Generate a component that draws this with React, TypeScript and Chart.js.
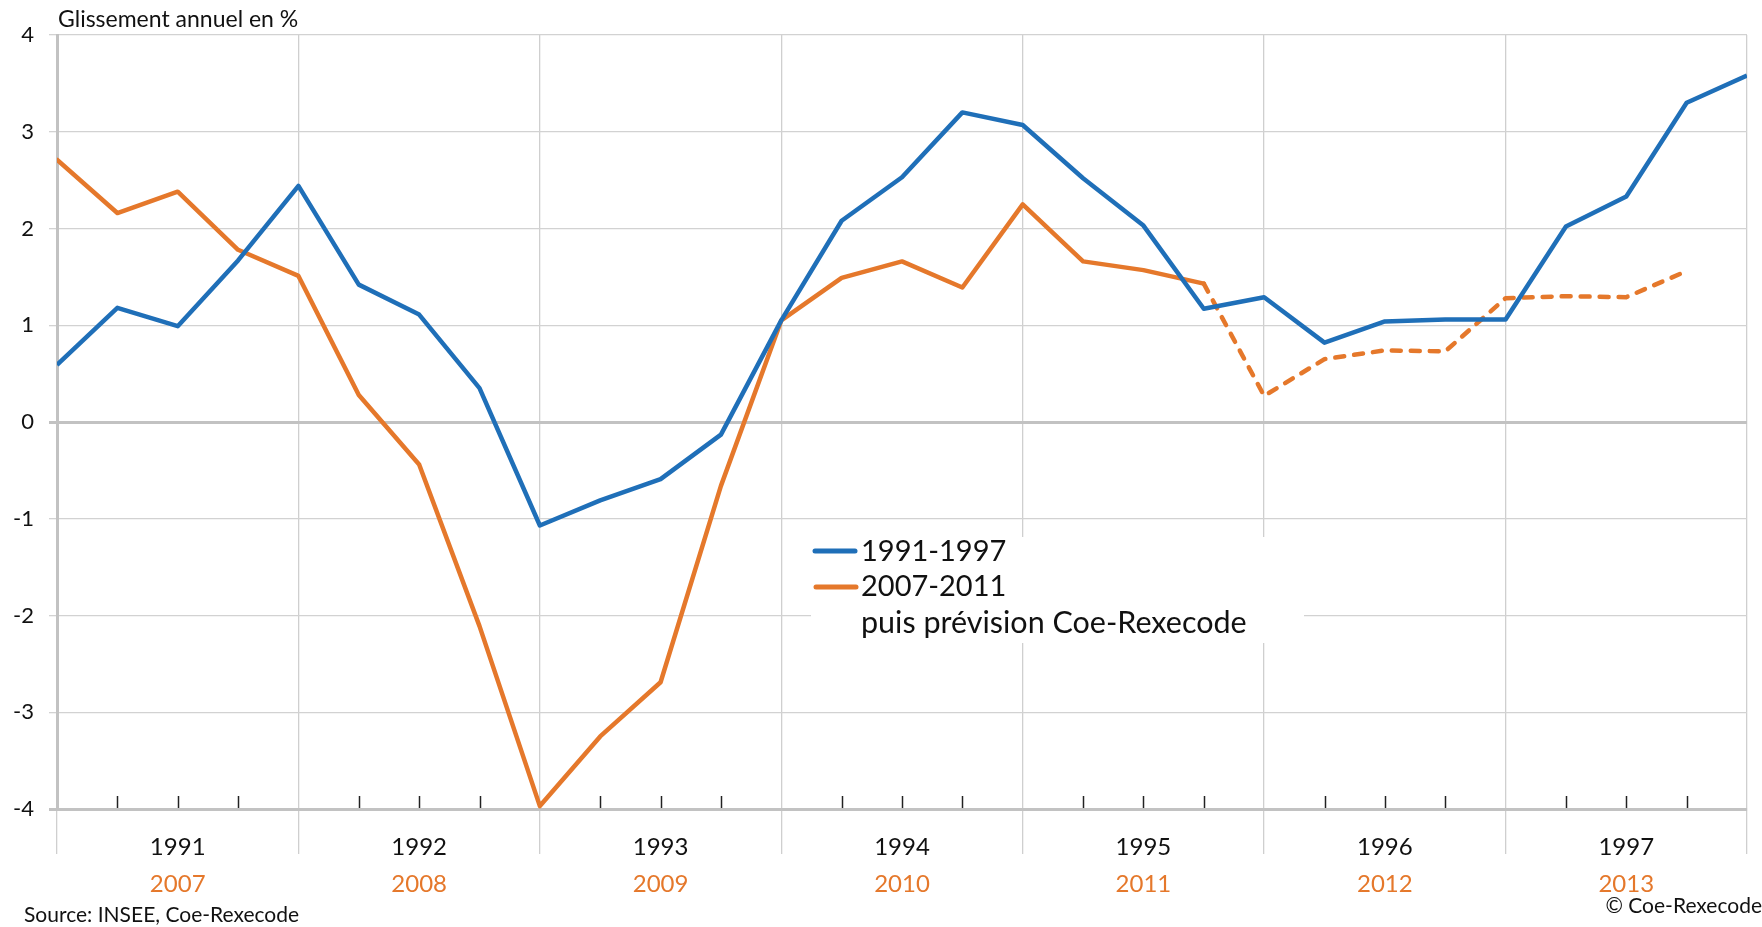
import React, { useEffect, useRef } from 'react';
import { Chart, registerables } from 'chart.js';

Chart.register(...registerables);

const FONT = 'Lato, "Open Sans", sans-serif';

// Quarterly points, year boundaries every 4 points (0..28)
const seriesBlue: number[] = [0.59, 1.18, 0.99, 1.67, 2.44, 1.42, 1.11, 0.35, -1.07, -0.81, -0.59, -0.13, 1.05, 2.08, 2.53, 3.2, 3.07, 2.52, 2.03, 1.17, 1.29, 0.82, 1.04, 1.06, 1.06, 2.02, 2.33, 3.3, 3.58];
const seriesOrange: (number | null)[] = [2.71, 2.16, 2.38, 1.78, 1.51, 0.28, -0.44, -2.11, -3.97, -3.25, -2.69, -0.66, 1.05, 1.49, 1.66, 1.39, 2.25, 1.66, 1.57, 1.43, 0.27, 0.65, 0.74, 0.73, 1.28, 1.3, 1.29, 1.56, null];
const forecastStart = 19;

const yearsTop = ['1991', '1992', '1993', '1994', '1995', '1996', '1997'];
const yearsBottom = ['2007', '2008', '2009', '2010', '2011', '2012', '2013'];
const yTicks = [-4, -3, -2, -1, 0, 1, 2, 3, 4];

const labelBlue = '1991-1997';
const labelOrange = '2007-2011';
const labelOrange2 = 'puis prévision Coe-Rexecode';
const titleText = 'Glissement annuel en %';
const sourceText = 'Source: INSEE, Coe-Rexecode';
const copyText = '© Coe-Rexecode';

const BLUE = '#1f6fb8';
const ORANGE = '#e5782b';

const decor = {
  id: 'decor',
  beforeDatasetsDraw(chart: any) {
    const { ctx, chartArea, scales } = chart;
    const x = scales.x;
    ctx.save();
    ctx.strokeStyle = '#222';
    ctx.lineWidth = 1.5;
    for (let i = 1; i < 28; i++) {
      if (i % 4 === 0) continue;
      const px = Math.round(x.getPixelForValue(i)) + 0.5;
      ctx.beginPath();
      ctx.moveTo(px, chartArea.bottom - 1);
      ctx.lineTo(px, chartArea.bottom - 13);
      ctx.stroke();
    }
    // legend background
    ctx.fillStyle = '#ffffff';
    ctx.fillRect(811, 537, 493, 106);
    ctx.restore();
  },
  afterDraw(chart: any) {
    const { ctx, scales } = chart;
    const x = scales.x;
    ctx.save();
    ctx.textBaseline = 'middle';
    // year labels
    ctx.textAlign = 'center';
    ctx.font = `24px ${FONT}`;
    yearsTop.forEach((lab, k) => {
      const cx = x.getPixelForValue(4 * k + 2);
      ctx.fillStyle = '#111';
      ctx.fillText(lab, cx, 847);
      ctx.fillStyle = ORANGE;
      ctx.fillText(yearsBottom[k], cx, 884);
    });
    // title
    ctx.textAlign = 'left';
    ctx.fillStyle = '#111';
    ctx.font = `23px ${FONT}`;
    ctx.fillText(titleText, 58, 20);
    ctx.font = `21px ${FONT}`;
    ctx.fillText(sourceText, 24, 915);
    ctx.textAlign = 'right';
    ctx.fillText(copyText, 1762, 906);
    // legend
    ctx.lineCap = 'round';
    ctx.lineWidth = 5;
    ctx.strokeStyle = BLUE;
    ctx.beginPath();
    ctx.moveTo(815, 551);
    ctx.lineTo(855, 551);
    ctx.stroke();
    ctx.strokeStyle = ORANGE;
    ctx.beginPath();
    ctx.moveTo(816, 587);
    ctx.lineTo(856, 587);
    ctx.stroke();
    ctx.textAlign = 'left';
    ctx.fillStyle = '#111';
    ctx.font = `29px ${FONT}`;
    ctx.fillText(labelBlue, 861, 552);
    ctx.fillText(labelOrange, 861, 587);
    ctx.font = `30.5px ${FONT}`;
    ctx.fillText(labelOrange2, 861, 623);
    ctx.restore();
  },
};

export default function App() {
  const ref = useRef<HTMLCanvasElement | null>(null);

  useEffect(() => {
    if (!ref.current) return;
    const chart = new Chart(ref.current, {
      type: 'line',
      data: {
        datasets: [
          {
            label: labelBlue,
            data: seriesBlue.map((v, i) => ({ x: i, y: v })),
            borderColor: BLUE,
            borderWidth: 4.5,
            pointRadius: 0,
            tension: 0,
            borderJoinStyle: 'round',
          },
          {
            label: labelOrange,
            data: seriesOrange.map((v, i) => ({ x: i, y: v })),
            borderColor: ORANGE,
            borderWidth: 4.5,
            pointRadius: 0,
            tension: 0,
            borderJoinStyle: 'round',
            borderCapStyle: 'round',
            segment: {
              borderDash: (c: any) => (c.p0DataIndex >= forecastStart ? [9, 10] : undefined),
            },
          },
        ],
      },
      options: {
        animation: false,
        responsive: false,
        maintainAspectRatio: false,
        layout: { padding: { left: 0, right: 15, top: 35, bottom: 0 } },
        plugins: { legend: { display: false }, tooltip: { enabled: false }, title: { display: false } },
        scales: {
          x: {
            type: 'linear',
            min: 0,
            max: 28,
            ticks: { stepSize: 1, display: false },
            grid: {
              color: (c: any) => (c.tick && c.tick.value % 4 === 0 ? '#cfcfcf' : 'rgba(0,0,0,0)'),
              lineWidth: 1.3,
              tickLength: 45,
            },
            border: { display: true, color: '#c2c2c2', width: 3 },
            afterFit: (s: any) => {
              s.height = 118;
            },
          },
          y: {
            type: 'linear',
            min: -4,
            max: 4,
            afterBuildTicks: (s: any) => {
              s.ticks = yTicks.map((v) => ({ value: v }));
            },
            ticks: {
              color: '#111',
              font: { size: 22, family: FONT },
              padding: 15,
            },
            grid: {
              color: (c: any) => (c.tick && (c.tick.value === 0 || c.tick.value === -4) ? '#c2c2c2' : '#d2d2d2'),
              lineWidth: (c: any) => (c.tick && (c.tick.value === 0 || c.tick.value === -4) ? 3 : 1.3),
              tickLength: 8,
            },
            border: { display: true, color: '#c2c2c2', width: 3 },
            afterFit: (s: any) => {
              s.width = 57;
            },
          },
        },
      },
      plugins: [decor],
    } as any);
    return () => chart.destroy();
  }, []);

  return (
    <div style={{ position: 'fixed', left: 0, top: 0, width: 1762, height: 927, background: '#fff' }}>
      <canvas ref={ref} width={1762} height={927} style={{ display: 'block' }} />
    </div>
  );
}
